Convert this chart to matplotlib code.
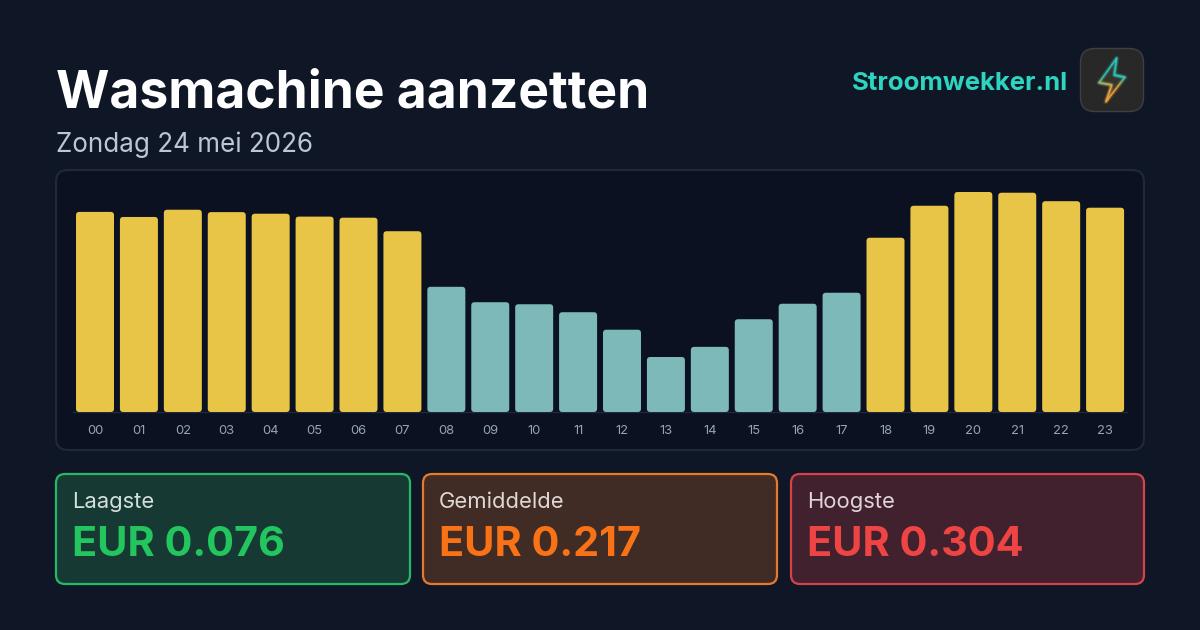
import matplotlib
matplotlib.use("Agg")
import matplotlib.pyplot as plt
import numpy as np
from matplotlib.collections import LineCollection
from matplotlib.patches import FancyBboxPatch, Polygon

title = "Wasmachine aanzetten"
subtitle = "Zondag 24 mei 2026"
brand = "Stroomwekker.nl"

hours = ["00", "01", "02", "03", "04", "05", "06", "07", "08", "09", "10", "11",
         "12", "13", "14", "15", "16", "17", "18", "19", "20", "21", "22", "23"]
prices = [0.2765, 0.2695, 0.2795, 0.2762, 0.274, 0.27, 0.2685, 0.2498,
          0.173, 0.1517, 0.1489, 0.1379, 0.1137, 0.076, 0.09, 0.1282,
          0.1496, 0.1648, 0.2408, 0.285, 0.304, 0.303, 0.2913, 0.2823]
cheap = [False] * 8 + [True] * 10 + [False] * 6

card_labels = ["Laagste", "Gemiddelde", "Hoogste"]
card_values = ["EUR 0.076", "EUR 0.217", "EUR 0.304"]

BG = "#0f1727"
YELLOW = "#e8c547"
TEAL = "#7db9b9"

plt.rcParams["font.family"] = ["Inter", "DejaVu Sans"]
PX = 0.72  # points per pixel at dpi 100

fig = plt.figure(figsize=(12, 6.3), dpi=100, facecolor=BG)

# full size axes in pixels for the page furniture
page = fig.add_axes([0, 0, 1, 1], zorder=0)
page.set_xlim(0, 1200)
page.set_ylim(630, 0)
page.axis("off")


def box(x0, y0, x1, y1, face, edge, lw=1.5, r=10, zorder=1):
    p = FancyBboxPatch((x0, y0), x1 - x0, y1 - y0, boxstyle=f"round,pad=0,rounding_size={r}",
                       fc=face, ec=edge, lw=lw, zorder=zorder)
    page.add_patch(p)
    return p


page.text(56, 108, title, color="white", fontsize=51.5 * PX, fontweight="bold", va="baseline")
page.text(56, 152, subtitle, color="#bcc6d6", fontsize=26 * PX, va="baseline")
page.text(1068, 90, brand, color="#2dd4bf", fontsize=25.7 * PX, fontweight="bold", ha="right", va="baseline")

# chart panel
box(56, 170, 1144, 450, "#0b1120", "#1e293b", lw=1.5, r=12)

# logo
box(1080.5, 48.5, 1143.5, 111.5, "#282828", "#3c3f45", lw=1, r=14)
bolt = np.array([(1116.7, 58), (1099, 82.7), (1111.7, 85), (1106, 101.7),
                 (1125, 77.3), (1114.3, 75), (1116.7, 58)])
page.add_patch(Polygon(bolt[:6], closed=True, fc="#35342c", ec="none", zorder=2))
pts = []
for a, b in zip(bolt[:-1], bolt[1:]):
    pts.append(np.linspace(a, b, 12))
pts = np.vstack(pts)
segs = np.stack([pts[:-1], pts[1:]], axis=1)
t = np.clip((segs[:, :, 1].mean(axis=1) - 76) / 12, 0, 1)[:, None]
seg_cols = (1 - t) * np.array([0.18, 0.80, 0.76]) + t * np.array([0.96, 0.66, 0.25])
for lw, alpha in [(4.0, 0.06), (2.6, 0.12), (1.4, 0.3), (0.6, 1.0)]:
    page.add_collection(LineCollection(segs, colors=np.c_[seg_cols, np.full(len(seg_cols), alpha)],
                                       linewidths=lw, zorder=3, capstyle="round"))

# cards
cards = [
    (56, 410, "#163a33", "#28b765", "#22c55e", "#d3e0de"),
    (423, 777, "#412c25", "#e67a2a", "#f97316", "#dfd8d4"),
    (791, 1144, "#41212d", "#d5434a", "#ef4444", "#dfd5da"),
]
for (x0, x1, face, edge, val_col, lab_col), lab, val in zip(cards, card_labels, card_values):
    box(x0, 474, x1, 584, face, edge, lw=1.6, r=9)
    page.text(x0 + 16, 508, lab, color=lab_col, fontsize=22 * PX, va="baseline")
    page.text(x0 + 16, 556, val, color=val_col, fontsize=41.4 * PX, fontweight="bold", va="baseline")

# bars, axes placed so hour slots line up with the picture
ax = fig.add_axes([73.05 / 1200, (630 - 412) / 630, 1054 / 1200, 240 / 630], zorder=2)
ax.patch.set_alpha(0)
ax.set_xlim(-0.5, 23.5)
ymax = 0.304 * 240 / 220
ax.set_ylim(0, ymax)
ax.set_yticks([])
for s in ["top", "left", "right"]:
    ax.spines[s].set_visible(False)
ax.spines["bottom"].set_color("#1e293b")
ax.spines["bottom"].set_linewidth(1)

colors = [TEAL if c else YELLOW for c in cheap]
bars = ax.bar(hours, prices, width=38 / 43.92, color=colors)
aspect = (ymax / 240) / (24 / 1054)
for bar, c in zip(bars, colors):
    # swap the square bar for a slightly rounded one
    bar.set_visible(False)
    ax.add_patch(FancyBboxPatch((bar.get_x(), 0), bar.get_width(), bar.get_height(),
                                boxstyle="round,pad=0,rounding_size=0.075", mutation_aspect=aspect,
                                fc=c, ec="none", zorder=3))
ax.set_xlim(-0.5, 23.5)
ax.tick_params(axis="x", length=0, pad=9.5, labelsize=13 * PX, labelcolor="#94a3b8")

fig.savefig("out.png", dpi=100, facecolor=BG)
